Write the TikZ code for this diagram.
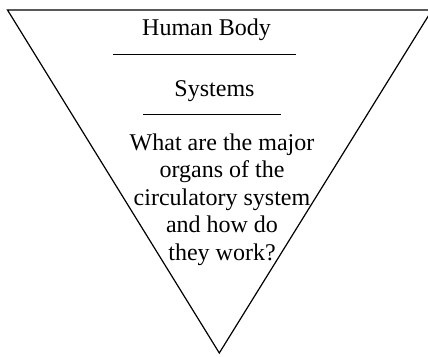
\documentclass[tikz,border=0pt]{standalone}
\usepackage{fontspec}
\setmainfont{Liberation Serif}
\begin{document}
\begin{tikzpicture}[x=1pt,y=-1pt,
  funnel/.style={draw=black,line width=1.2pt,line join=miter},
  rule/.style={draw=black,line width=0.9pt},
  label/.style={font=\fontsize{24}{27.5}\selectfont,inner sep=0pt,anchor=base},
  question/.style={font=\fontsize{24}{27.5}\selectfont,inner sep=0pt,align=center,anchor=north}]
  \useasboundingbox (0,0) rectangle (428,356);
  % inverted triangle; its right corner runs past the page edge
  \coordinate (tl) at (7.5,10);
  \coordinate (tr) at (432,10);
  \coordinate (tip) at (219.3,353);
  \draw[funnel] (tl) -- (tr) -- (tip) -- cycle;
  % headings and separators
  \node[label] (title) at (206.5,35.5) {Human Body};
  \coordinate (r1a) at (113,54.5);
  \coordinate (r1b) at (296,54.5);
  \draw[rule] (r1a) -- (r1b);
  \node[label] (sys) at (214.5,96) {Systems};
  \coordinate (r2a) at (143,114);
  \coordinate (r2b) at (281,114);
  \draw[rule] (r2a) -- (r2b);
  % question text
  \node[question] (q) at (222,133.5) {What are the major\\organs of the\\circulatory system\\and how do\\they work?};
\end{tikzpicture}
\end{document}
